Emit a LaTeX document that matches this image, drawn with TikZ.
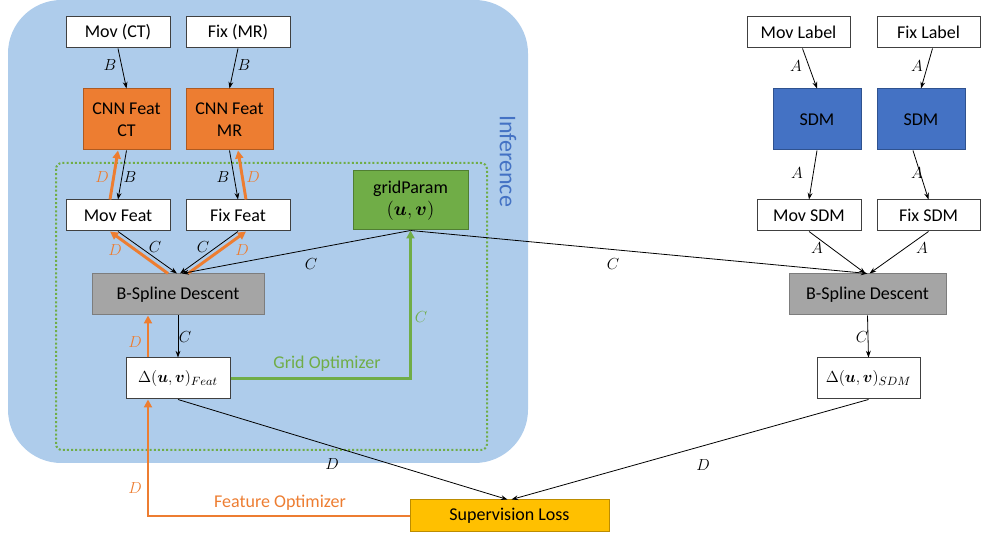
\documentclass[tikz,border=0pt]{standalone}
\usepackage{amsmath,bm}
\usepackage{fontspec}
\setmainfont{Carlito}
\usetikzlibrary{arrows.meta,calc}
\definecolor{bgblue}{RGB}{174,204,235}
\definecolor{orfill}{RGB}{237,125,49}
\definecolor{ordraw}{RGB}{174,90,33}
\definecolor{grfill}{RGB}{112,173,71}
\definecolor{grdraw}{RGB}{80,126,50}
\definecolor{gyfill}{RGB}{165,165,165}
\definecolor{gydraw}{RGB}{125,125,125}
\definecolor{blfill}{RGB}{68,114,196}
\definecolor{bldraw}{RGB}{47,82,143}
\definecolor{yefill}{RGB}{255,192,0}
\definecolor{yedraw}{RGB}{188,140,0}
\tikzset{
  wbox/.style={draw=black!75, line width=0.75pt, fill=white, inner sep=0pt,
    font=\fontsize{13.5}{16.5}\selectfont, align=center},
  sz/.style 2 args={minimum width=#1*0.75pt, minimum height=#2*0.75pt},
  obox/.style={wbox, fill=orfill, draw=ordraw},
  gbox/.style={wbox, fill=grfill, draw=grdraw},
  gybox/.style={wbox, fill=gyfill, draw=gydraw},
  bbox/.style={wbox, fill=blfill, draw=bldraw},
  ybox/.style={wbox, fill=yefill, draw=yedraw},
  arr/.style={-{Stealth[length=5pt,width=3.6pt]}, line width=0.6pt, black},
  oarr/.style={-{Triangle[length=6pt,width=6pt]}, line width=2.2pt, orfill},
  garr/.style={-{Triangle[length=6pt,width=6pt]}, line width=2.2pt, grfill},
  lab/.style={font=\fontsize{12.5}{14}\selectfont, inner sep=0pt},
  olab/.style={lab, text=orfill},
  glab/.style={lab, text=grfill},
}
\begin{document}
\begin{tikzpicture}[x=0.75pt,y=-0.75pt]
\useasboundingbox (0,0) rectangle (990,538);
% background
\fill[bgblue, rounded corners=40pt] (8,0) rectangle (528,463);
\draw[grfill, line width=1.5pt, dash pattern=on 1.5pt off 1.6pt, rounded corners=4.5pt] (56,163) rectangle (487,450);
\node[rotate=-90, text=blfill, font=\fontsize{18}{20}\selectfont, inner sep=0pt] (inf) at (508,161) {Inference};

% left nodes
\node[wbox, sz={104}{31}] (movct) at (118,32.5) {Mov (CT)};
\node[wbox, sz={104}{31}] (fixmr) at (238,32.5) {Fix (MR)};
\node[obox, sz={87}{61}] (cnnct) at (126.5,119.5) {CNN Feat\\CT};
\node[obox, sz={87}{61}] (cnnmr) at (229.5,119.5) {CNN Feat\\MR};
\node[wbox, sz={104}{31}] (movfeat) at (118,215.5) {Mov Feat};
\node[wbox, sz={104}{31}] (fixfeat) at (238,215.5) {Fix Feat};
\node[gbox, sz={115}{59}] (grid) at (410.5,200.5) {gridParam\\$(\bm{u},\bm{v})$};
\node[gybox, sz={172}{41}] (bsl) at (178,294.5) {B-Spline Descent};
\node[wbox, sz={104}{41}, font=\fontsize{12.5}{14}\selectfont] (dfeat) at (178,378.5) {$\Delta(\bm{u},\bm{v})_{Feat}$};
\node[ybox, sz={199}{32}] (sup) at (509.5,516) {Supervision Loss};

% right nodes
\node[wbox, sz={103}{31}] (movlab) at (798.5,32.5) {Mov Label};
\node[wbox, sz={103}{31}] (fixlab) at (928.5,32.5) {Fix Label};
\node[bbox, sz={88}{61}] (sdma) at (817,119.5) {SDM};
\node[bbox, sz={88}{61}] (sdmb) at (921,119.5) {SDM};
\node[wbox, sz={104}{31}] (movsdm) at (809,215.5) {Mov SDM};
\node[wbox, sz={103}{31}] (fixsdm) at (928.5,215.5) {Fix SDM};
\node[gybox, sz={157}{41}] (bsr) at (867.5,294.5) {B-Spline Descent};
\node[wbox, sz={103}{41}, font=\fontsize{12.5}{14}\selectfont] (dsdm) at (868.5,378.5) {$\Delta(\bm{u},\bm{v})_{SDM}$};

% left arrows
\draw[arr] (movct.south) -- (cnnct.north);
\draw[arr] (fixmr.south) -- (cnnmr.north);
\draw[arr] (cnnct.south) -- (movfeat.north);
\draw[oarr] ($(movfeat.north)+(-8,0)$) -- ($(cnnct.south)+(-8.5,0)$);
\draw[arr] (cnnmr.south) -- (fixfeat.north);
\draw[oarr] ($(fixfeat.north)+(8,0)$) -- ($(cnnmr.south)+(8.5,0)$);
\draw[arr] (movfeat.south) -- ($(bsl.north)+(-1,0)$);
\draw[oarr] ($(bsl.north)+(-10,0)$) -- ($(movfeat.south)+(-8,0)$);
\draw[arr] (fixfeat.south) -- ($(bsl.north)+(2,0)$);
\draw[oarr] ($(bsl.north)+(10,0)$) -- ($(fixfeat.south)+(8,0)$);
\draw[arr] (grid.south) -- ($(bsl.north)+(4,0)$);
\draw[arr] (grid.south) -- (bsr.north);
\draw[arr] (bsl.south) -- (dfeat.north);
\draw[oarr] ($(dfeat.north)+(-30,0)$) -- ($(bsl.south)+(-30,0)$);
\draw[garr] (dfeat.east) -| (grid.south);
\draw[arr] (dfeat.south) -- ($(sup.north)+(-2,0)$);
\draw[arr] (dsdm.south) -- ($(sup.north)+(2,0)$);
\coordinate (fo) at ($(dfeat.south)+(-30,0)$);
\draw[oarr] (sup.west) -| (fo);

% right arrows
\draw[arr] ($(movlab.south)+(4,0)$) -- (sdma.north);
\draw[arr] ($(fixlab.south)+(4,0)$) -- (sdmb.north);
\draw[arr] (sdma.south) -- (movsdm.north);
\draw[arr] ($(sdmb.south)+(-8,0)$) -- (fixsdm.north);
\draw[arr] (movsdm.south) -- ($(bsr.north)+(-2,0)$);
\draw[arr] (fixsdm.south) -- ($(bsr.north)+(2,0)$);
\draw[arr] (bsr.south) -- (dsdm.north);

% labels
\node[lab] (l1) at (110,65) {$B$};
\node[lab] (l2) at (244,65) {$B$};
\node[olab] (l3) at (102,177) {$D$};
\node[lab] (l4) at (130,177) {$B$};
\node[lab] (l5) at (223,177) {$B$};
\node[olab] (l6) at (253,177) {$D$};
\node[olab] (l7) at (115,250) {$D$};
\node[lab] (l8) at (155,247) {$C$};
\node[lab] (l9) at (203,247) {$C$};
\node[olab] (l10) at (242,250) {$D$};
\node[lab] (l11) at (311,264) {$C$};
\node[lab] (l12) at (613,264) {$C$};
\node[lab] (l13) at (185,337) {$C$};
\node[olab] (l14) at (135,342) {$D$};
\node[glab] (l15) at (421,317) {$C$};
\node[font=\fontsize{13.5}{16}\selectfont, text=grfill, inner sep=0pt] (go) at (327,364) {Grid Optimizer};
\node[lab] (l16) at (332,464) {$D$};
\node[olab] (l17) at (135,488) {$D$};
\node[font=\fontsize{13.5}{16}\selectfont, text=orfill, inner sep=0pt] (fopt) at (280,503) {Feature Optimizer};
\node[lab] (l18) at (703,465) {$D$};
\node[lab] (r1) at (796,66) {$A$};
\node[lab] (r2) at (917,66) {$A$};
\node[lab] (r3) at (797,173) {$A$};
\node[lab] (r4) at (917,173) {$A$};
\node[lab] (r5) at (817,248) {$A$};
\node[lab] (r6) at (922,248) {$A$};
\node[lab] (r7) at (862,337) {$C$};
\end{tikzpicture}
\end{document}
